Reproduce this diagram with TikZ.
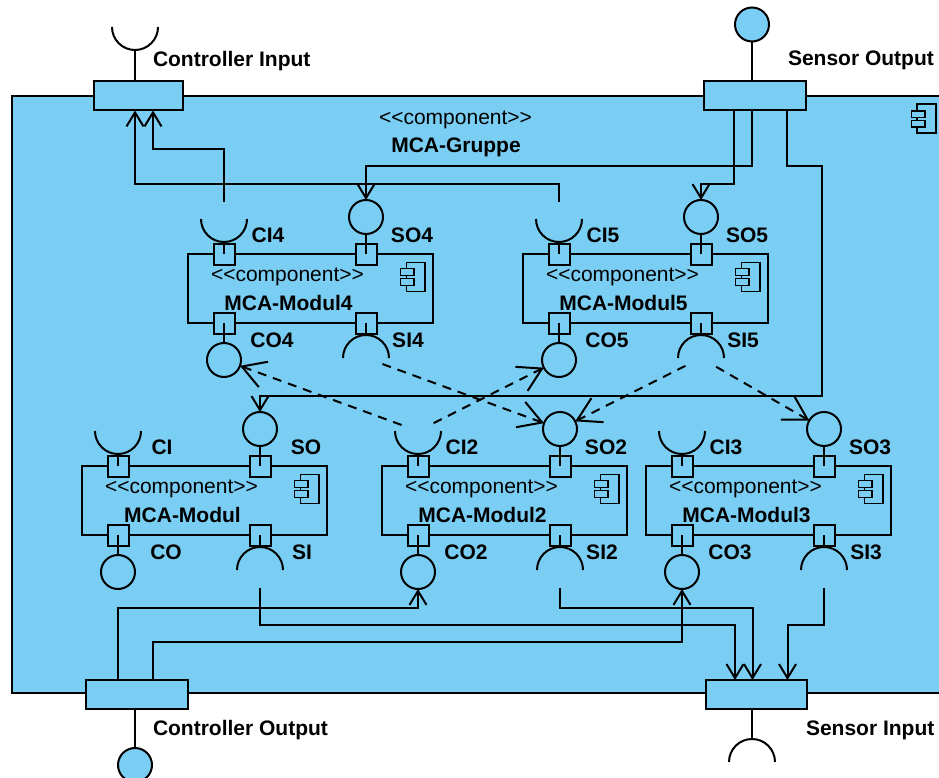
\documentclass[tikz,border=0pt]{standalone}
\usepackage{xcolor}
\usepackage{fontspec}
\setmainfont{Liberation Sans}
\usepackage{tikz}
\usetikzlibrary{arrows.meta,positioning}
\definecolor{vpblue}{RGB}{122,206,244}

\begin{document}
\begin{tikzpicture}[
    x=1pt, y=-1pt,
    line width=2pt,
    every node/.style={font=\fontsize{21}{25}\selectfont, inner sep=0pt, outer sep=0pt},
    box/.style={rectangle, draw, fill=vpblue},
    modul/.style={box, minimum width=245pt, minimum height=69pt, anchor=north west},
    port/.style={box, minimum size=21pt},
    pbox/.style={box, minimum height=29pt},
    lolli/.style={circle, draw, minimum size=34pt},
    sock/.style={circle, minimum size=35pt},
    lbl/.style={font=\fontsize{21}{25}\selectfont\bfseries},
    icon/.style={draw, fill=vpblue, line width=1.6pt},
    flow/.style={-{Straight Barb[length=14pt, width=17pt]}},
    dep/.style={dash pattern=on 9pt off 7pt, -{Straight Barb[length=23pt, width=27pt]}}
]
    \clip (0,0) rectangle (939,778);

    \node[box, minimum width=960pt, minimum height=597pt, anchor=north west] (grp) at (12,96) {};
    \node[anchor=base] at (455.5,125) {<{}<component>{}>};
    \node[lbl, anchor=base] at (456,153) {MCA-Gruppe};
    \draw[icon] (917,104) rectangle ++(19,29);
    \draw[icon] (911.5,111) rectangle ++(13.5,6.5);
    \draw[icon] (911.5,120.5) rectangle ++(13.5,6.5);

    \node[pbox, minimum width=89pt] (cin) at (138.5,96) {};
    \node[pbox, minimum width=102pt] (sout) at (755,96) {};
    \node[pbox, minimum width=102pt] (cout) at (137,694.5) {};
    \node[pbox, minimum width=101pt] (sin) at (756.5,694.5) {};

    \node[sock] (cin-s) at (135,27) {};
    \draw ([xshift=23pt]cin-s.center) arc[start angle=0, end angle=-180, radius=23pt];
    \draw ([yshift=-23pt]cin-s.center) -- (cin-s |- cin.north);
    \node[lolli, fill=vpblue] (sout-s) at (752,24.5) {};
    \draw (sout-s) -- (sout-s |- sout.north);
    \node[lolli, fill=vpblue] (cout-s) at (135,765) {};
    \draw (cout-s) -- (cout-s |- cout.south);
    \node[sock] (sin-s) at (752,762) {};
    \draw ([xshift=23pt]sin-s.center) arc[start angle=0, end angle=180, radius=23pt];
    \draw ([yshift=23pt]sin-s.center) -- (sin-s |- sin.south);

    \node[lbl, anchor=base west] at (153,67) {Controller Input};
    \node[lbl, anchor=base west] at (788,66) {Sensor Output};
    \node[lbl, anchor=base west] at (153,735) {Controller Output};
    \node[lbl, anchor=base west] at (806,735) {Sensor Input};

    \foreach \id/\px/\py/\n in {m4/188/254/4, m5/523/254/5, m/82/466/{}, m2/382/466/2, m3/646/466/3} {
        \node[modul] (\id) at (\px,\py) {};
        \node[anchor=base] at ([shift={(99.5,27.5)}]\id.north west) {<{}<component>{}>};
        \node[lbl, anchor=base] at ([shift={(100.5,56)}]\id.north west) {MCA-Modul\n};
        \draw[icon] ([shift={(-26.5,8.5)}]\id.north east) rectangle ++(18.5,29);
        \draw[icon] ([shift={(-32.5,14.5)}]\id.north east) rectangle ++(13.5,7);
        \draw[icon] ([shift={(-32.5,24.5)}]\id.north east) rectangle ++(13.5,7);

        \node[port] (\id-pci) at ([xshift=36pt]\id.north west) {};
        \node[port] (\id-pso) at ([xshift=178pt]\id.north west) {};
        \node[port] (\id-pco) at ([xshift=36pt]\id.south west) {};
        \node[port] (\id-psi) at ([xshift=178pt]\id.south west) {};

        \node[sock] (\id-ci) at ([yshift=35pt]\id-pci.center) {};
        \node[lolli] (\id-so) at ([yshift=37pt]\id-pso.center) {};
        \node[lolli] (\id-co) at ([yshift=-37pt]\id-pco.center) {};
        \node[sock] (\id-si) at ([yshift=-35pt]\id-psi.center) {};
        \draw ([xshift=23pt]\id-ci.center) arc[start angle=0, end angle=-180, radius=23pt];
        \draw ([xshift=23pt]\id-si.center) arc[start angle=0, end angle=180, radius=23pt];
        \draw (\id-pci.center) -- ([yshift=-23pt]\id-ci.center);
        \draw (\id-pso.center) -- (\id-so);
        \draw (\id-pco.center) -- (\id-co);
        \draw (\id-psi.center) -- ([yshift=23pt]\id-si.center);

        \node[lbl, anchor=base] at ([shift={(80,-12)}]\id.north west) {CI\n};
        \node[lbl, anchor=base] at ([shift={(224,-12)}]\id.north west) {SO\n};
        \node[lbl, anchor=base] at ([shift={(84,24.5)}]\id.south west) {CO\n};
        \node[lbl, anchor=base] at ([shift={(220,24.5)}]\id.south west) {SI\n};
    }

    \coordinate (cin-a) at ([xshift=-3.5pt]cin.south);
    \coordinate (cin-b) at ([xshift=14.5pt]cin.south);
    \coordinate (sout-a) at ([xshift=-21pt]sout.south);
    \coordinate (sout-b) at ([xshift=-3pt]sout.south);
    \coordinate (sout-c) at ([xshift=32pt]sout.south);
    \coordinate (cout-a) at ([xshift=-19pt]cout.north);
    \coordinate (cout-b) at ([xshift=16pt]cout.north);
    \coordinate (sin-a) at ([xshift=-21.5pt]sin.north);
    \coordinate (sin-b) at ([xshift=-4pt]sin.north);
    \coordinate (sin-c) at ([xshift=31pt]sin.north);

    \draw[flow] (m4-ci.north) -- ++(0,-52.5) -| (cin-b);
    \draw[flow] (m5-ci.north) -- ++(0,-17.5) -| (cin-a);
    \draw[flow] (sout-b) -- ++(0,56) -| (m4-so);
    \draw[flow] (sout-a) -- ++(0,74) -| (m5-so);
    \draw[flow] (sout-c) -- ++(0,56) -- ++(35,0) -- ++(0,229) -| (m-so);
    \draw[flow] (cout-a) -- ++(0,-72.5) -| (m2-co);
    \draw[flow] (cout-b) -- ++(0,-38) -| (m3-co);
    \draw[flow] (m-si.south) -- ++(0,37.5) -| (sin-a);
    \draw[flow] (m2-si.south) -- ++(0,20.5) -| (sin-b);
    \draw[flow] (m3-si.south) -- ++(0,37.5) -| (sin-c);

    \draw[dep] (m2-ci) -- (m4-co);
    \draw[dep] (m2-ci) -- (m5-co);
    \draw[dep] (m4-si) -- (m2-so);
    \draw[dep] (m5-si) -- (m2-so);
    \draw[dep] (m5-si) -- (m3-so);
\end{tikzpicture}
\end{document}
